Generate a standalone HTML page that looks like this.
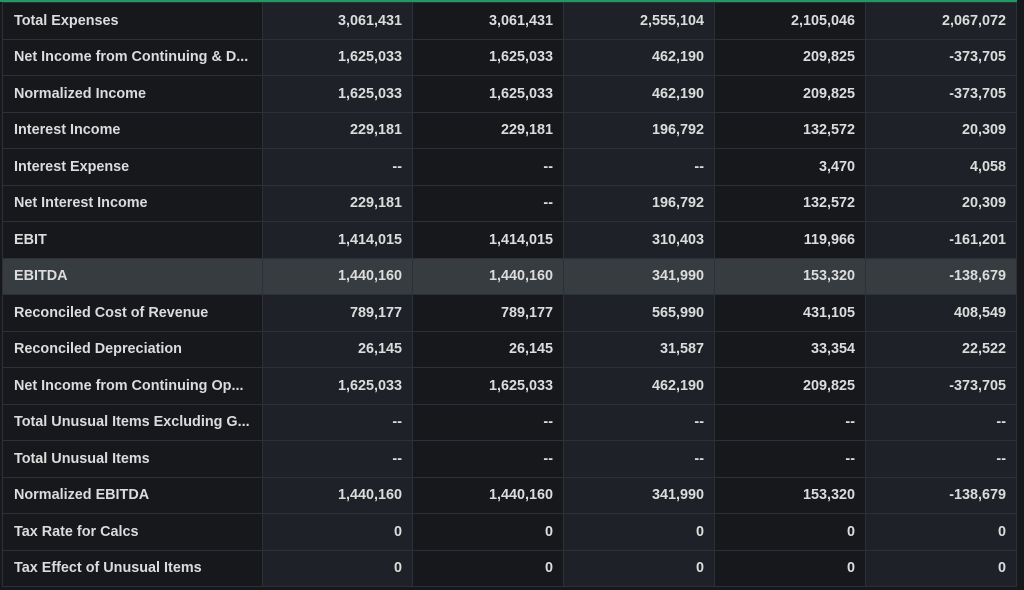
<!DOCTYPE html><html><head><style>
body{margin:0;background:#16181c;width:1024px;height:590px;overflow:hidden;font-family:"Liberation Sans",sans-serif}
.top{position:absolute;left:0;top:0;width:1024px;height:2px;background:#1f9a62}
table{position:absolute;left:2px;top:2px;border-collapse:collapse;table-layout:fixed}
td{height:35.5px;padding:0 10px;border:1px solid #2d3137;color:#dcdcdc;font-size:14.4px;font-weight:bold;text-align:right;white-space:nowrap;overflow:hidden;background:#1e2127}
td:nth-child(1){text-align:left;padding-left:11px;background:#16181c}
td:nth-child(3),td:nth-child(5){background:#16181c}
tr.h td{background:#363c40}
.r{position:absolute;left:1017px;top:0;width:7px;height:590px;background:#16181c}
</style></head><body><div class="top"></div>
<table>
<colgroup><col style="width:260px"><col style="width:150px"><col style="width:151px"><col style="width:151px"><col style="width:151px"><col style="width:151px"></colgroup>
<tr><td>Total Expenses</td><td>3,061,431</td><td>3,061,431</td><td>2,555,104</td><td>2,105,046</td><td>2,067,072</td></tr>
<tr><td>Net Income from Continuing &amp; D...</td><td>1,625,033</td><td>1,625,033</td><td>462,190</td><td>209,825</td><td>-373,705</td></tr>
<tr><td>Normalized Income</td><td>1,625,033</td><td>1,625,033</td><td>462,190</td><td>209,825</td><td>-373,705</td></tr>
<tr><td>Interest Income</td><td>229,181</td><td>229,181</td><td>196,792</td><td>132,572</td><td>20,309</td></tr>
<tr><td>Interest Expense</td><td>--</td><td>--</td><td>--</td><td>3,470</td><td>4,058</td></tr>
<tr><td>Net Interest Income</td><td>229,181</td><td>--</td><td>196,792</td><td>132,572</td><td>20,309</td></tr>
<tr><td>EBIT</td><td>1,414,015</td><td>1,414,015</td><td>310,403</td><td>119,966</td><td>-161,201</td></tr>
<tr class="h"><td>EBITDA</td><td>1,440,160</td><td>1,440,160</td><td>341,990</td><td>153,320</td><td>-138,679</td></tr>
<tr><td>Reconciled Cost of Revenue</td><td>789,177</td><td>789,177</td><td>565,990</td><td>431,105</td><td>408,549</td></tr>
<tr><td>Reconciled Depreciation</td><td>26,145</td><td>26,145</td><td>31,587</td><td>33,354</td><td>22,522</td></tr>
<tr><td>Net Income from Continuing Op...</td><td>1,625,033</td><td>1,625,033</td><td>462,190</td><td>209,825</td><td>-373,705</td></tr>
<tr><td>Total Unusual Items Excluding G...</td><td>--</td><td>--</td><td>--</td><td>--</td><td>--</td></tr>
<tr><td>Total Unusual Items</td><td>--</td><td>--</td><td>--</td><td>--</td><td>--</td></tr>
<tr><td>Normalized EBITDA</td><td>1,440,160</td><td>1,440,160</td><td>341,990</td><td>153,320</td><td>-138,679</td></tr>
<tr><td>Tax Rate for Calcs</td><td>0</td><td>0</td><td>0</td><td>0</td><td>0</td></tr>
<tr><td>Tax Effect of Unusual Items</td><td>0</td><td>0</td><td>0</td><td>0</td><td>0</td></tr>
</table><div class="r"></div></body></html>
